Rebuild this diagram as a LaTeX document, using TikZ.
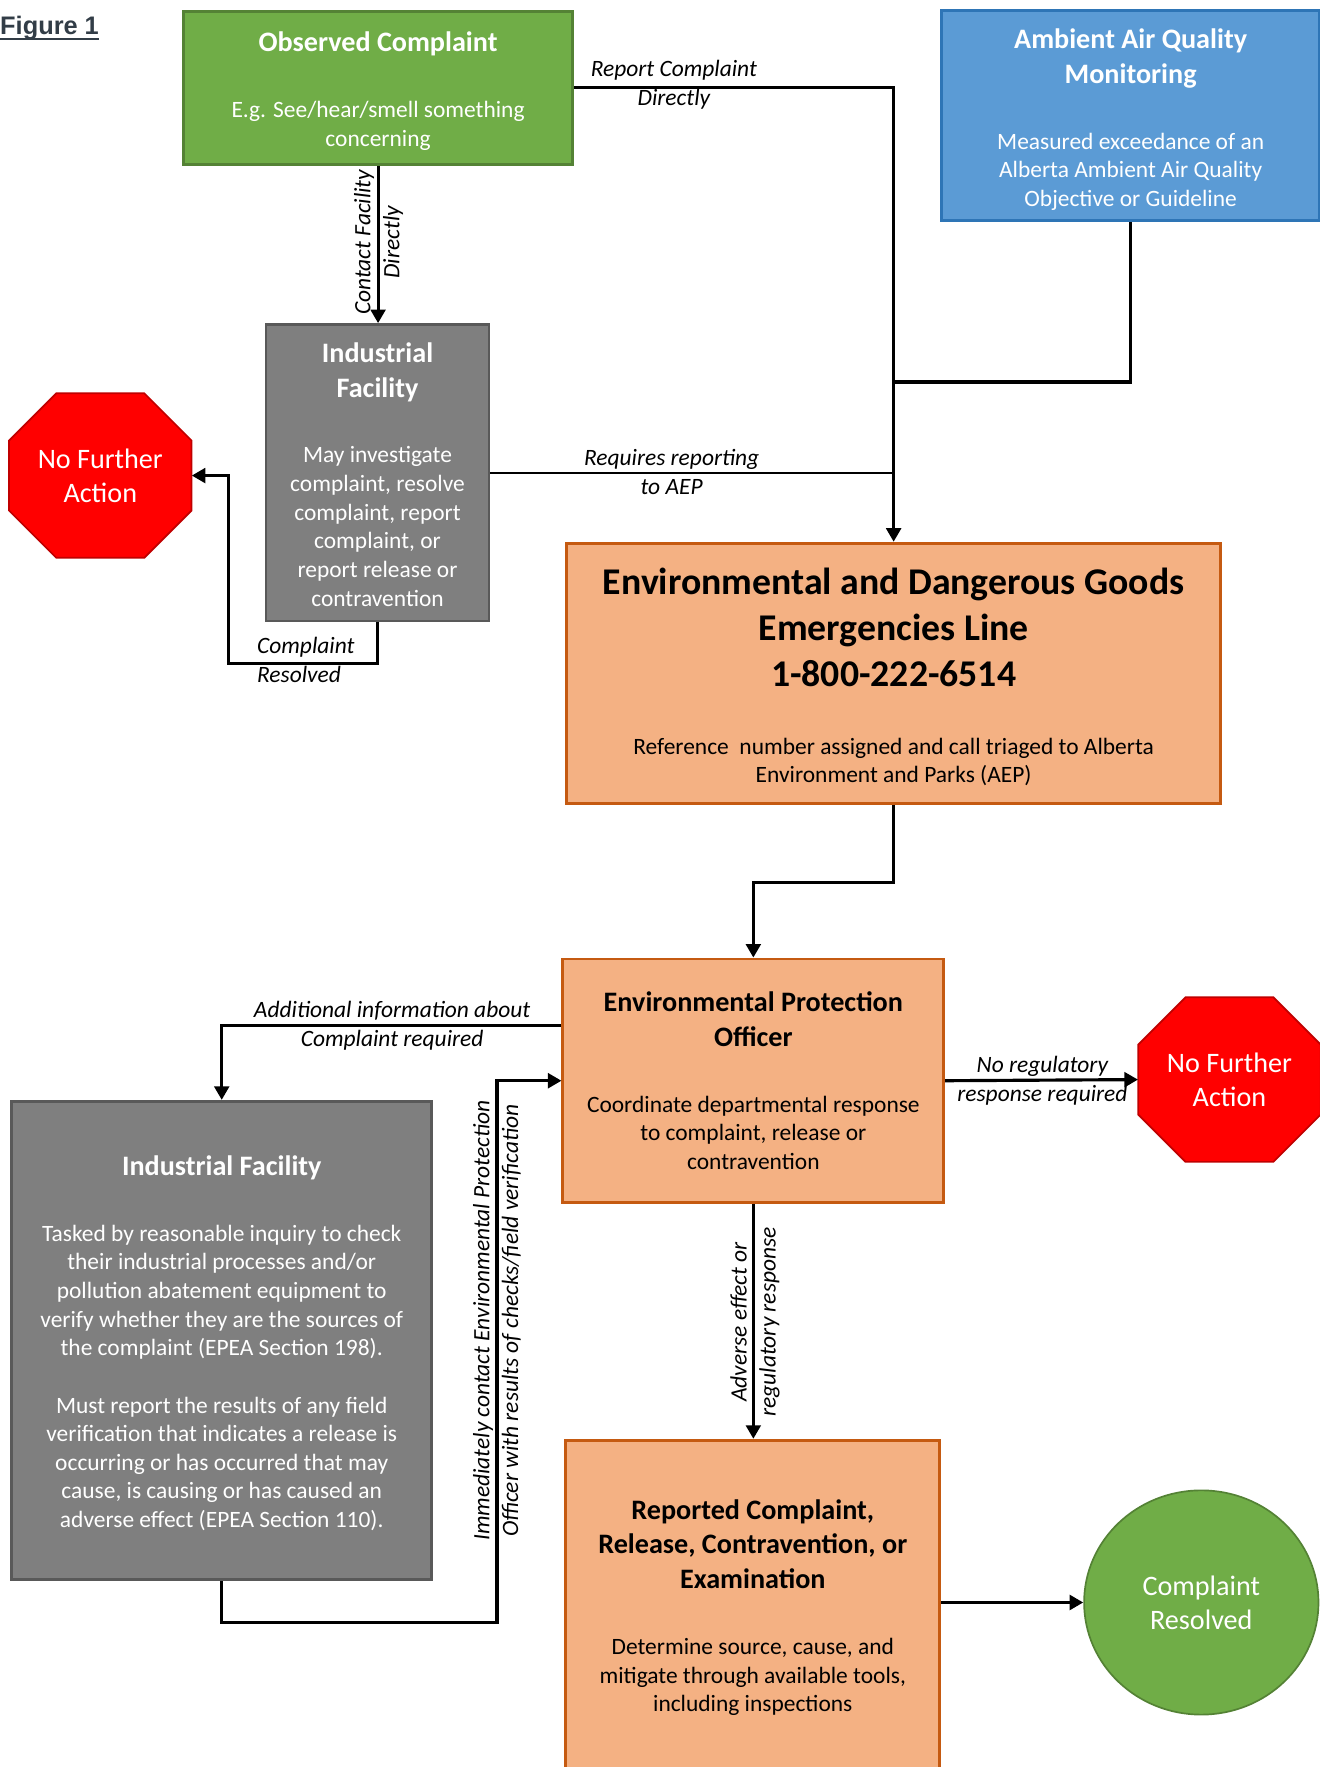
\documentclass[tikz,border=0pt]{standalone}
\usepackage{fontspec}
\setmainfont{Carlito}
\newfontfamily\arialfont{Liberation Sans}
\usetikzlibrary{shapes.geometric,arrows.meta}

\definecolor{cgreen}{HTML}{70AD47}
\definecolor{cgreenline}{HTML}{548235}
\definecolor{cblue}{HTML}{5B9BD5}
\definecolor{cblueline}{HTML}{2E75B6}
\definecolor{cgrey}{HTML}{7F7F7F}
\definecolor{cgreyline}{HTML}{595959}
\definecolor{corange}{HTML}{F4B183}
\definecolor{corangeline}{HTML}{C55A11}
\definecolor{cred}{HTML}{FF0000}
\definecolor{credline}{HTML}{C00000}
\definecolor{cfig}{HTML}{323D47}

\newcommand{\ttl}[1]{{\fontsize{25}{30}\selectfont\bfseries #1}}
\newcommand{\bigttl}[1]{{\fontsize{33.5}{40}\selectfont\bfseries #1}}
\newcommand{\padtop}[2]{\raisebox{0pt}[\dimexpr\height+#1\relax][\depth]{#2}}
\newcommand{\octagon}[2]{\filldraw[stopfill] (#1-39,#2-73) -- (#1+39,#2-73) -- (#1+81,#2-31) -- (#1+81,#2+31)
	-- (#1+39,#2+73) -- (#1-39,#2+73) -- (#1-81,#2+31) -- (#1-81,#2-31) -- cycle;}

\begin{document}
\begin{tikzpicture}[x=1pt, y=-1pt,
	box/.style={rectangle, line width=2.5pt, align=center, inner sep=0pt, font=\fontsize{20.8}{25.4}\selectfont},
	greenbox/.style={box, fill=cgreen, draw=cgreenline, text=white},
	bluebox/.style={box, fill=cblue, draw=cblueline, text=white},
	greybox/.style={box, fill=cgrey, draw=cgreyline, text=white},
	orangebox/.style={box, fill=corange, draw=corangeline, text=black},
	stopfill/.style={fill=cred, draw=credline, line width=1.5pt},
	stopsign/.style={rectangle, minimum width=162pt, minimum height=146pt, inner sep=0pt,
		text=white, align=center, font=\fontsize{25}{30.5}\selectfont},
	endcircle/.style={ellipse, minimum width=208pt, minimum height=199pt, inner sep=0pt, fill=cgreen,
		draw=cgreenline, line width=1.5pt, text=white, align=center, font=\fontsize{25}{30}\selectfont},
	lbl/.style={inner sep=0pt, align=center, font=\fontsize{20.8}{25.6}\selectfont\itshape},
	link/.style={line width=2.8pt},
	conn/.style={link, -{Stealth[inset=0pt, length=12pt, width=13pt]}}]
\useasboundingbox (0,0) rectangle (1171,1568);

\node[anchor=base west, inner sep=0pt, text=cfig, font=\arialfont\fontsize{22.5}{26}\selectfont\bfseries] (fig) at (0,31) {Figure 1};
\draw[cfig, line width=2.2pt] ([yshift=-3.5pt]fig.base west) -- ([yshift=-3.5pt]fig.base east);

% boxes
\node[greenbox, minimum width=345pt, minimum height=136pt] (obs) at (335.5,78)
	{\padtop{6pt}{\ttl{Observed Complaint}}\\[33pt] E.g. See/hear/smell something\\ concerning};
\node[bluebox, minimum width=335.5pt, minimum height=186.5pt] (aaq) at (1003.3,102.6)
	{\padtop{7pt}{\ttl{Ambient Air Quality}}\\[5.5pt] \ttl{Monitoring}\\[33pt] Measured exceedance of an\\ Alberta Ambient Air Quality\\ Objective or Guideline};
\node[greybox, minimum width=198pt, minimum height=263pt] (ind1) at (335,419.5)
	{\padtop{3pt}{\ttl{Industrial}}\\[5.5pt] \ttl{Facility}\\[33pt] May investigate\\ complaint, resolve\\ complaint, report\\ complaint, or\\ report release or\\ contravention};
\node[orangebox, minimum width=580pt, minimum height=231pt] (eline) at (793,597.5)
	{\padtop{7pt}{\bigttl{Environmental and Dangerous Goods}}\\[10.5pt] \bigttl{Emergencies Line}\\[10.5pt] \bigttl{1-800-222-6514}\\[35pt]
	 Reference\ \ number assigned and call triaged to Alberta\\ Environment and Parks (AEP)};
\node[orangebox, minimum width=338pt, minimum height=216pt] (epo) at (668.5,959)
	{\ttl{Environmental Protection}\\[5.5pt] \ttl{Officer}\\[33pt] Coordinate departmental response\\ to complaint, release or\\ contravention};
\node[greybox, minimum width=372.5pt, minimum height=424.5pt] (ind2) at (196.75,1189.5)
	{\padtop{5pt}{\ttl{Industrial Facility}}\\[33pt] Tasked by reasonable inquiry to check\\ their industrial processes and/or\\ pollution abatement equipment to\\
	 verify whether they are the sources of\\ the complaint (EPEA Section 198).\\[25.4pt] Must report the results of any field\\
	 verification that indicates a release is\\ occurring or has occurred that may\\ cause, is causing or has caused an\\ adverse effect (EPEA Section 110).};
\node[orangebox, minimum width=332pt, minimum height=294pt] (rep) at (668,1425)
	{\padtop{3pt}{\ttl{Reported Complaint,}}\\[5.5pt] \ttl{Release, Contravention, or}\\[5.5pt] \ttl{Examination}\\[33pt]
	 Determine source, cause, and\\ mitigate through available tools,\\ including inspections};
\octagon{89}{422}
\node[stopsign] (nfa1) at (89,422) {No Further\\ Action};
\octagon{1091}{958}
\node[stopsign] (nfa2) at (1091,958) {No Further\\ Action};
\node[endcircle] (crs) at (1066,1422) {Complaint\\ Resolved};

% connectors
\coordinate (jaaq) at (793,339);
\coordinate (cres) at (203,589);
\coordinate (cadd) at (197,910);
\coordinate (cimm) at (441,1440);
\draw[conn] (obs.east) -| (eline.north);
\draw[link] (aaq.south) |- (jaaq);
\draw[conn] (obs.south) -- (obs.south |- ind1.north);
\draw[link, line width=2pt] (ind1.east) -- (ind1.east -| eline.north);
\draw[conn] (ind1.south) |- (cres) |- (nfa1.east);
\draw[conn] (eline.south) -- ++(0,69) -| (epo.north);
\draw[conn] (cadd -| epo.west) -| (ind2.north);
\draw[conn] (ind2.south) |- (cimm) |- (epo.west);
\draw[conn] (epo.east) -- (nfa2.west);
\draw[conn] (epo.south) -- (epo.south |- rep.north);
\draw[conn] (crs.west -| rep.east) -- (crs.west);

% labels
\node[lbl] (lreport) at (598,75) {Report Complaint\\ Directly};
\node[lbl, rotate=90] (lcontact) at (336,215) {Contact Facility\\ Directly};
\node[lbl] (lrequires) at (596,419) {Requires reporting\\ to AEP};
\node[lbl, align=left, anchor=west] (lresolved) at (228,585.5) {Complaint\\ Resolved};
\node[lbl] (ladd) at (348,910) {Additional information about\\ Complaint required};
\node[lbl, rotate=90] (limm) at (441,1172) {Immediately contact Environmental Protection\\ Officer with results of checks/field verification};
\node[lbl] (lnoreg) at (925,959) {No regulatory\\ response required};
\node[lbl, rotate=90] (ladverse) at (670,1173) {Adverse effect or\\ regulatory response};

\end{tikzpicture}
\end{document}
